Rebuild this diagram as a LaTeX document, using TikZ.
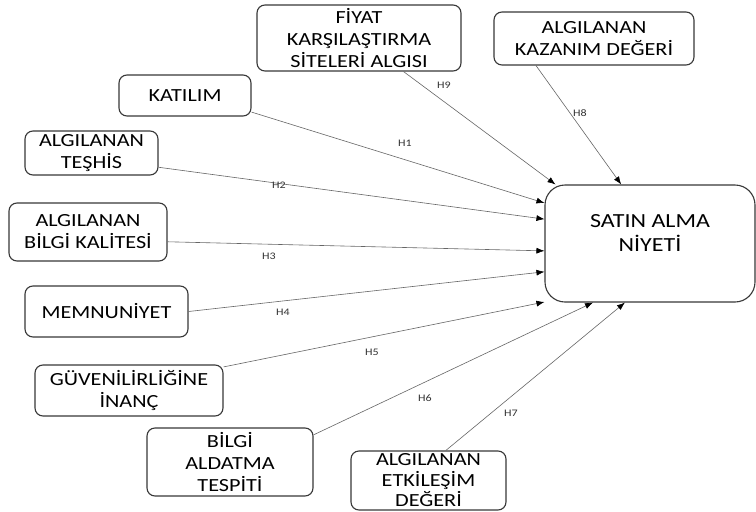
\documentclass[tikz,border=0pt]{standalone}
\usepackage{fontspec}
\setmainfont{Carlito}[FakeStretch=1.2]
\usetikzlibrary{arrows.meta}
\tikzset{
  kutu/.style={draw=black!78, line width=1.1pt, rounded corners=8pt, align=center, inner sep=0pt, font=\fontsize{18.5}{22}\selectfont},
  hip/.style={draw=black!60, line width=0.6pt, -{Latex[length=8pt,width=6pt,color=black]}},
  etiket/.style={font=\fontsize{10}{12}\selectfont, text=black!80, inner sep=0pt},
}

\begin{document}
\begin{tikzpicture}[x=1pt, y=-1pt]
  \useasboundingbox[fill=white] (0,0) rectangle (756,512);

  % bagimli degisken
  \node[kutu, rounded corners=20pt, minimum width=210pt, minimum height=117pt, font=\fontsize{20}{24}\selectfont] (sat) at (650,243.5) {SATIN ALMA\\NİYETİ\\[-4pt]~};

  % bagimsiz degiskenler
  \node[kutu, minimum width=204pt, minimum height=66pt] (fiy) at (359,38) {FİYAT\\KARŞILAŞTIRMA\\SİTELERİ ALGISI};
  \node[kutu, minimum width=200pt, minimum height=53pt] (kaz) at (594,38.5) {ALGILANAN\\KAZANIM DEĞERİ};
  \node[kutu, minimum width=132pt, minimum height=41pt] (kat) at (185,95.5) {KATILIM};
  \node[kutu, minimum width=133pt, minimum height=44pt] (tes) at (91.5,153) {ALGILANAN\\TEŞHİS};
  \node[kutu, minimum width=158pt, minimum height=58pt] (bkal) at (88,232) {ALGILANAN\\BİLGİ KALİTESİ};
  \node[kutu, minimum width=163pt, minimum height=51pt] (mem) at (106.5,311.5) {MEMNUNİYET};
  \node[kutu, minimum width=188pt, minimum height=51pt] (guv) at (129,390.5) {GÜVENİLİRLİĞİNE\\İNANÇ};
  \node[kutu, minimum width=166pt, minimum height=68pt] (bat) at (230,462) {BİLGİ\\ALDATMA\\TESPİTİ};
  \node[kutu, minimum width=155pt, minimum height=59pt, font=\fontsize{18.5}{20.5}\selectfont] (etk) at (428.5,480.5) {ALGILANAN\\ETKİLEŞİM\\DEĞERİ};

  % hipotezler
  \draw[hip] (kat.-14) -- (sat.159.4);
  \draw[hip] (tes.-12.7) -- (sat.167);
  \draw[hip] (bkal.-7.9) -- (sat.184);
  \draw[hip] (mem.east) -- (sat.195.8);
  \draw[hip] (guv.14) -- (sat.209.8);
  \draw[hip] (bat.18) -- (sat.226.7);
  \draw[hip] (etk.60) -- (sat.247);
  \draw[hip] (kaz.-155.8) -- (sat.116.4);
  \draw[hip] (fiy.-37.5) -- (sat.148);

  \node[etiket] (h1) at (405,143) {H1};
  \node[etiket] (h2) at (279,185) {H2};
  \node[etiket] (h3) at (269,256) {H3};
  \node[etiket] (h4) at (283,312) {H4};
  \node[etiket] (h5) at (372,352) {H5};
  \node[etiket] (h6) at (425,398) {H6};
  \node[etiket] (h7) at (511,413) {H7};
  \node[etiket] (h8) at (580,113) {H8};
  \node[etiket] (h9) at (444,85) {H9};
\end{tikzpicture}
\end{document}
